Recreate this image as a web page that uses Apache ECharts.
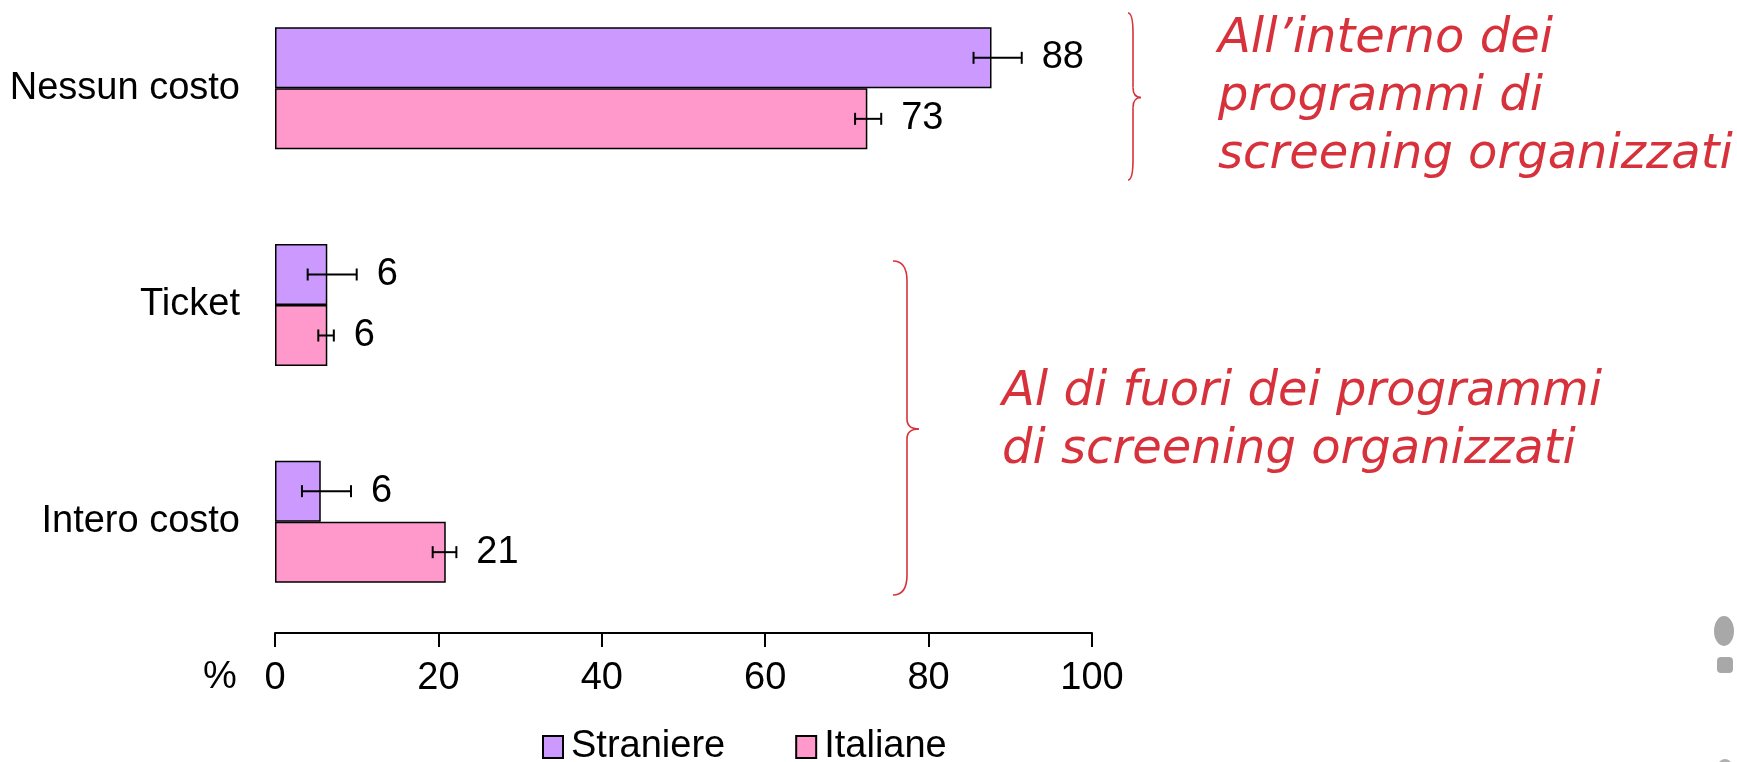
<!DOCTYPE html>
<html>
<head>
<meta charset="utf-8">
<script src="https://cdn.jsdelivr.net/npm/echarts@6/dist/echarts.min.js"></script>
<style>
html, body { margin: 0; padding: 0; background: #fff; }
#chart { width: 1737px; height: 762px; }
</style>
</head>
<body>
<div id="chart"></div>
<script>
// data
const categories = ["Nessun costo", "Ticket", "Intero costo"];
const seriesNames = ["Straniere", "Italiane"];
const straniere = [87.7, 6.4, 5.6];
const italiane = [72.5, 6.4, 20.9];
const straniereLow = [85.5, 4.0, 3.3];
const straniereHigh = [91.4, 10.0, 9.3];
const italianeLow = [71.0, 5.3, 19.3];
const italianeHigh = [74.2, 7.2, 22.2];
const xTicks = [0, 20, 40, 60, 80, 100];

const FONT = '"Liberation Sans", Arial, sans-serif';
const FS = 38;
const BAR_H = 61;
const RED = "#d7323b";
const RED_FONT = 'italic 48px "DejaVu Sans", Verdana, sans-serif';

function errData(low, high, vals) {
    return categories.map((c, i) => [i, low[i], high[i], vals[i]]);
}

// side: -1 = upper bar of the pair, +1 = lower bar
function errorItem(side) {
    return function (params, api) {
        let c = api.value(0);
        let lo = api.coord([api.value(1), c]);
        let hi = api.coord([api.value(2), c]);
        let y = lo[1] + side * BAR_H / 2;
        let cap = 6;
        let line = { stroke: "#000", lineWidth: 2 };
        return {
            type: "group",
            children: [
                { type: "line", shape: { x1: lo[0], y1: y, x2: hi[0], y2: y }, style: line },
                { type: "line", shape: { x1: lo[0], y1: y - cap, x2: lo[0], y2: y + cap }, style: line },
                { type: "line", shape: { x1: hi[0], y1: y - cap, x2: hi[0], y2: y + cap }, style: line },
                {
                    type: "text",
                    x: hi[0] + 20,
                    y: y,
                    style: {
                        text: String(Math.round(api.value(3))),
                        fill: "#000",
                        font: FS + "px " + FONT,
                        align: "left",
                        verticalAlign: "middle",
                    },
                },
            ],
        };
    };
}

// curly brace "}" built from curves; x0 = tips, xs = stem, xc = cusp
function brace(x0, xs, xc, yTop, yMid, yBot) {
    let st = { fill: null, stroke: RED, lineWidth: 1.6 };
    let r = 10;
    return [
        { type: "bezierCurve", shape: { x1: x0, y1: yTop, cpx1: xs, cpy1: yTop, x2: xs, y2: yTop + r * 2 }, style: st },
        { type: "line", shape: { x1: xs, y1: yTop + r * 2, x2: xs, y2: yMid - r }, style: st },
        { type: "bezierCurve", shape: { x1: xs, y1: yMid - r, cpx1: xs, cpy1: yMid, x2: xc, y2: yMid }, style: st },
        { type: "bezierCurve", shape: { x1: xc, y1: yMid, cpx1: xs, cpy1: yMid, x2: xs, y2: yMid + r }, style: st },
        { type: "line", shape: { x1: xs, y1: yMid + r, x2: xs, y2: yBot - r * 2 }, style: st },
        { type: "bezierCurve", shape: { x1: xs, y1: yBot - r * 2, cpx1: xs, cpy1: yBot, x2: x0, y2: yBot }, style: st },
    ];
}

let myChart = echarts.init(document.getElementById("chart"));
myChart.setOption({
    animation: false,
    backgroundColor: "#fff",
    textStyle: { fontFamily: FONT },
    grid: {
        left: 275,
        right: 645,
        top: -20,
        height: 650,
        outerBoundsMode: "none",
    },
    legend: {
        data: seriesNames,
        left: 537,
        top: 723,
        icon: "rect",
        itemWidth: 20,
        itemHeight: 22,
        itemGap: 70,
        textStyle: { fontSize: FS, color: "#000", fontFamily: FONT, padding: [0, 0, 0, 3] },
    },
    xAxis: {
        type: "value",
        min: xTicks[0],
        max: xTicks[xTicks.length - 1],
        interval: xTicks[1] - xTicks[0],
        offset: 3,
        axisLine: { show: true, lineStyle: { color: "#000", width: 2 } },
        axisTick: { show: true, length: 14, lineStyle: { color: "#000", width: 2 } },
        splitLine: { show: false },
        axisLabel: { fontSize: FS, color: "#000", margin: 27, fontFamily: FONT },
    },
    yAxis: {
        type: "category",
        inverse: true,
        data: categories,
        axisLine: { show: false },
        axisTick: { show: false },
        axisLabel: { fontSize: FS, color: "#000", margin: 35, fontFamily: FONT },
    },
    series: [
        {
            type: "bar",
            name: seriesNames[0],
            data: straniere,
            barWidth: BAR_H,
            barGap: "0%",
            itemStyle: { color: "#cc99ff", borderColor: "#000", borderWidth: 1.5 },
        },
        {
            type: "bar",
            name: seriesNames[1],
            data: italiane,
            barWidth: BAR_H,
            barGap: "0%",
            itemStyle: { color: "#ff99cc", borderColor: "#000", borderWidth: 1.5 },
        },
        {
            type: "custom",
            name: "err-straniere",
            renderItem: errorItem(-1),
            encode: { x: [1, 2], y: 0 },
            data: errData(straniereLow, straniereHigh, straniere),
            z: 10,
        },
        {
            type: "custom",
            name: "err-italiane",
            renderItem: errorItem(1),
            encode: { x: [1, 2], y: 0 },
            data: errData(italianeLow, italianeHigh, italiane),
            z: 10,
        },
    ],
    graphic: [
        {
            type: "text",
            x: 203,
            y: 659,
            style: { text: "%", font: FS + "px " + FONT, fill: "#000" },
        },
        {
            type: "text",
            x: 1218,
            y: 11,
            style: {
                text: "All\u2019interno dei\nprogrammi di\nscreening organizzati",
                font: RED_FONT,
                lineHeight: 58,
                fill: RED,
            },
        },
        {
            type: "text",
            x: 1002,
            y: 364,
            style: {
                text: "Al di fuori dei programmi\ndi screening organizzati",
                font: RED_FONT,
                lineHeight: 58,
                fill: RED,
            },
        },
        ...brace(1128, 1133, 1141, 13, 97.5, 180),
        ...brace(893, 907, 919, 261, 429, 595),
        { type: "circle", x: 1724, y: 631, scaleY: 1.5, shape: { cx: 0, cy: 0, r: 10 }, style: { fill: "#a8a8a8" } },
        { type: "rect", shape: { x: 1717, y: 657, width: 16, height: 16, r: 4 }, style: { fill: "#a8a8a8" } },
        { type: "circle", shape: { cx: 1725, cy: 766, r: 7 }, style: { fill: "#b0b0b0" } },
    ],
});
</script>
</body>
</html>
